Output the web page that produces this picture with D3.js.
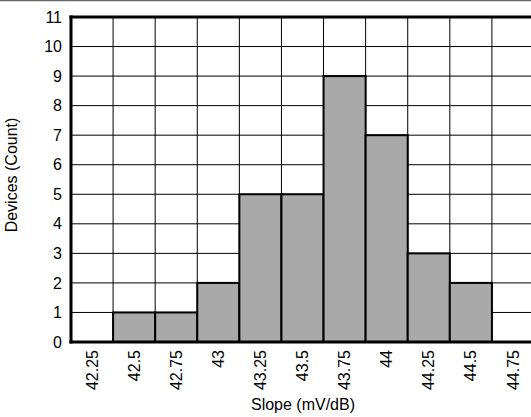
<!DOCTYPE html>
<html>
<head>
<meta charset="utf-8">
<script src="https://cdn.jsdelivr.net/npm/d3@7"></script>
<style>
  body { margin: 0; background: #fff; }
  svg { display: block; font-family: Arial, "Liberation Sans", sans-serif; }
</style>
</head>
<body>
<svg id="drawing_region"></svg>
<script>
const bins = ["42.25", "42.5", "42.75", "43", "43.25", "43.5", "43.75", "44", "44.25", "44.5", "44.75"];
const counts = [0, 1, 1, 2, 5, 5, 9, 7, 3, 2, 0];
const yTicks = [0, 1, 2, 3, 4, 5, 6, 7, 8, 9, 10, 11];

const data = bins.map((b, i) => ({ bin: b, count: counts[i] }));

const config = {
  width: 531,
  height: 417,
  margin: { top: 17, right: -3, bottom: 75, left: 71 },
  fontSize: 16
};

const svg = d3.select('#drawing_region')
  .attr('width', config.width)
  .attr('height', config.height);

const innerW = config.width - config.margin.left - config.margin.right;
const innerH = config.height - config.margin.top - config.margin.bottom;

// thin rule along the very top of the figure
svg.append('line')
  .attr('x1', 0).attr('x2', config.width)
  .attr('y1', 0.5).attr('y2', 0.5)
  .attr('stroke', '#666').attr('stroke-width', 1.5);

const g = svg.append('g')
  .attr('transform', `translate(${config.margin.left}, ${config.margin.top})`);

const x = d3.scaleBand().domain(bins).range([0, innerW]).padding(0);
const y = d3.scaleLinear().domain([0, 11]).range([innerH, 0]);

// grid
g.selectAll('.hgrid').data(yTicks).enter().append('line')
  .attr('x1', 0).attr('x2', innerW)
  .attr('y1', d => y(d)).attr('y2', d => y(d))
  .attr('stroke', '#000').attr('stroke-width', 1);

g.selectAll('.vgrid').data(bins).enter().append('line')
  .attr('x1', d => x(d)).attr('x2', d => x(d))
  .attr('y1', 0).attr('y2', innerH)
  .attr('stroke', '#000').attr('stroke-width', 1);

// bars
g.selectAll('.bar').data(data.filter(d => d.count > 0)).enter().append('rect')
  .attr('x', d => x(d.bin))
  .attr('y', d => y(d.count))
  .attr('width', x.bandwidth())
  .attr('height', d => innerH - y(d.count))
  .attr('fill', '#a9a9a9')
  .attr('stroke', '#000')
  .attr('stroke-width', 2);

// frame: left, bottom, top
g.append('line').attr('x1', 0).attr('x2', 0).attr('y1', -1.5).attr('y2', innerH + 1.5)
  .attr('stroke', '#000').attr('stroke-width', 3);
g.append('line').attr('x1', -1.5).attr('x2', innerW).attr('y1', innerH).attr('y2', innerH)
  .attr('stroke', '#000').attr('stroke-width', 3);
g.append('line').attr('x1', -1.5).attr('x2', innerW).attr('y1', 0).attr('y2', 0)
  .attr('stroke', '#000').attr('stroke-width', 3);

// y axis labels
const yAxis = d3.axisLeft(y).tickValues(yTicks).tickSize(0).tickPadding(9).tickFormat(d3.format('d'));
g.append('g').call(yAxis)
  .attr('font-size', config.fontSize)
  .attr('font-family', 'Arial, "Liberation Sans", sans-serif')
  .call(a => a.select('.domain').remove())
  .selectAll('text')
  .attr('fill', '#000');

// x axis labels (rotated)
const xAxis = d3.axisBottom(x).tickSize(0).tickPadding(0);
g.append('g').attr('transform', `translate(0, ${innerH})`).call(xAxis)
  .attr('font-size', config.fontSize)
  .attr('font-family', 'Arial, "Liberation Sans", sans-serif')
  .call(a => a.select('.domain').remove())
  .selectAll('text')
  .attr('fill', '#000')
  .attr('text-anchor', 'end')
  .attr('dy', '0.35em')
  .attr('transform', 'translate(0, 8) rotate(-90)')
  .attr('x', 0)
  .attr('y', 0);

// axis titles
svg.append('text')
  .attr('x', 303).attr('y', 410)
  .attr('text-anchor', 'middle')
  .attr('font-size', config.fontSize)
  .text('Slope (mV/dB)');

svg.append('text')
  .attr('transform', `translate(17, 175) rotate(-90)`)
  .attr('text-anchor', 'middle')
  .attr('font-size', config.fontSize)
  .text('Devices (Count)');
</script>
</body>
</html>
